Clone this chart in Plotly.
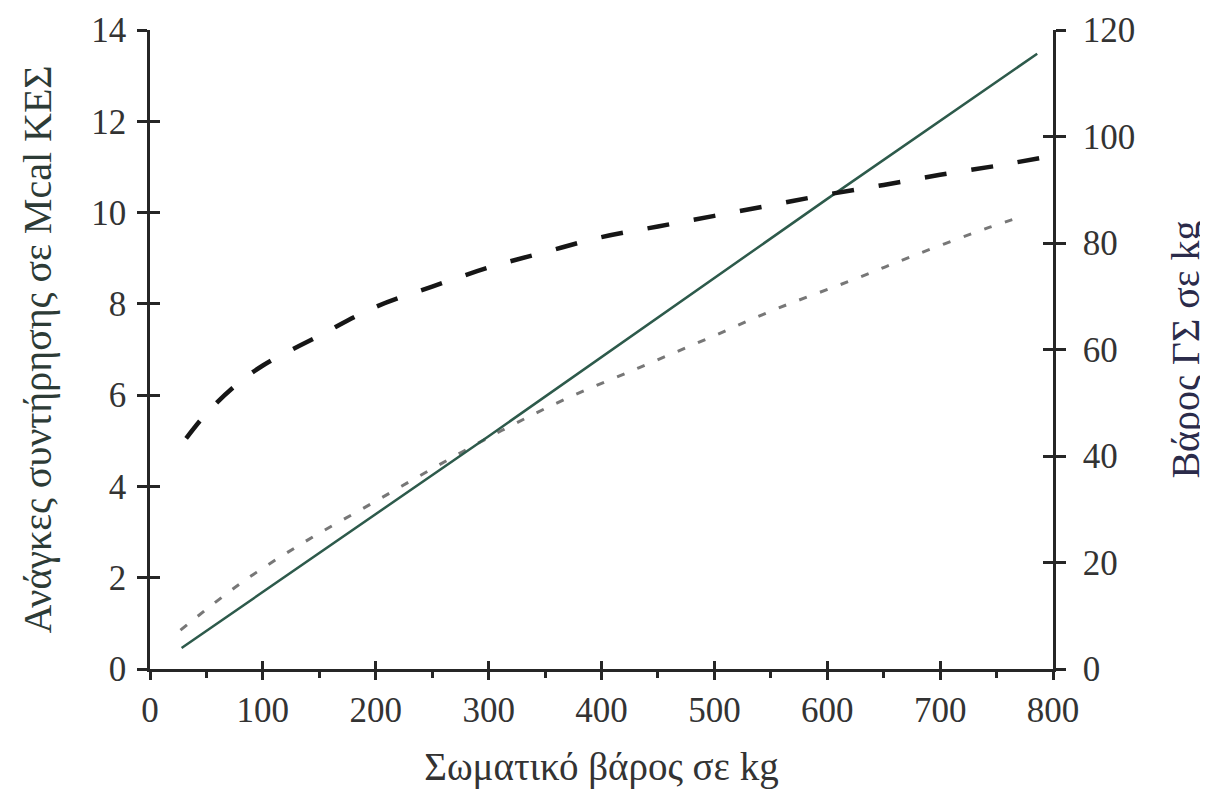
import plotly.graph_objects as go

# ---- data ----
# solid line (left axis, Mcal)
solid_kg = [28, 300, 600, 786]
solid_val = [0.46, 5.1, 10.3, 13.48]

# short-dashed grey curve (left axis, Mcal)
dot_kg = [27, 81, 138, 196, 253, 312, 365, 433, 495, 556, 621, 680, 744, 771]
dot_val = [0.85, 1.89, 2.8, 3.62, 4.43, 5.23, 5.88, 6.6, 7.25, 7.9, 8.51, 9.09, 9.68, 9.9]

# long-dashed black curve (right axis, kg)
dash_kg = [32, 50, 75, 100, 150, 200, 250, 300, 350, 400, 450, 500, 550, 600, 650, 700, 750, 790]
dash_val = [43.3, 48.0, 53.1, 57.0, 62.6, 68.0, 71.8, 75.4, 78.3, 81.1, 83.1, 85.1, 87.1, 89.1, 90.9, 92.8, 94.5, 96.0]

x_ticks = [0, 100, 200, 300, 400, 500, 600, 700, 800]
left_ticks = [0, 2, 4, 6, 8, 10, 12, 14]
right_ticks = [0, 20, 40, 60, 80, 100, 120]

x_title = "Σωματικό βάρος σε kg"
left_title = "Ανάγκες συντήρησης σε Mcal ΚΕΣ"
right_title = "Βάρος ΓΣ σε kg"

FONT = "Liberation Serif"
AX = "#262626"
TXT = "#333333"

fig = go.Figure()
fig.add_trace(go.Scatter(x=dot_kg, y=dot_val, mode="lines", yaxis="y",
                         line=dict(color="#777777", width=3, dash="8px,14px", shape="spline"),
                         showlegend=False, name="short"))
fig.add_trace(go.Scatter(x=solid_kg, y=solid_val, mode="lines", yaxis="y",
                         line=dict(color="#2d5a4b", width=2.5),
                         showlegend=False, name="solid"))
fig.add_trace(go.Scatter(x=dash_kg, y=dash_val, mode="lines", yaxis="y2",
                         line=dict(color="#161616", width=4.5, dash="22px,25px", shape="spline"),
                         showlegend=False, name="long"))

tickfont = dict(family=FONT, size=35, color=TXT)
common = dict(showgrid=False, zeroline=False, tickwidth=2.5, tickcolor=AX, automargin=False)

fig.update_layout(
    width=1208, height=805,
    margin=dict(l=142, r=163, t=22, b=144),
    paper_bgcolor="white", plot_bgcolor="white",
    font=dict(family=FONT, color=TXT),
    xaxis=dict(range=[0, 800], tickvals=x_ticks, ticks="outside", ticklen=8,
               showline=True, linecolor=AX, linewidth=2.5, tickfont=tickfont,
               ticklabelstandoff=0, ticklabeloverflow="allow",
               minor=dict(ticks="outside", ticklen=6, tickwidth=2.5, tickcolor=AX, dtick=50),
               title=dict(text=x_title, font=dict(family=FONT, size=39, color=TXT), standoff=24),
               **common),
    xaxis3=dict(range=[0, 800], overlaying="x", anchor="y", side="bottom",
                tickvals=x_ticks, ticks="inside", ticklen=8, showticklabels=False,
                showline=False, **common),
    yaxis=dict(range=[0, 14], tickvals=left_ticks, ticks="outside", ticklen=10,
               showline=True, linecolor=AX, linewidth=2.5, tickfont=tickfont,
               ticklabelstandoff=4, ticklabeloverflow="allow",
               title=dict(text=left_title, font=dict(family=FONT, size=40, color="#2d3b36"), standoff=28),
               **common),
    yaxis3=dict(range=[0, 14], overlaying="y", anchor="x", side="left",
                tickvals=left_ticks, ticks="inside", ticklen=10, showticklabels=False,
                showline=False, **common),
    yaxis2=dict(range=[0, 120], overlaying="y", anchor="x", side="right",
                tickvals=right_ticks, ticks="outside", ticklen=10,
                showline=True, linecolor=AX, linewidth=2.5, tickfont=tickfont,
                ticklabelstandoff=10, ticklabeloverflow="allow",
                title=dict(text=right_title, font=dict(family=FONT, size=40, color="#2b2b4a"), standoff=37),
                **common),
    yaxis4=dict(range=[0, 120], overlaying="y", anchor="x", side="right",
                tickvals=right_ticks, ticks="inside", ticklen=10, showticklabels=False,
                showline=False, **common),
)
# invisible helper traces so the overlay (inside-tick) axes render
fig.add_trace(go.Scatter(x=[0], y=[0], xaxis="x3", yaxis="y3", mode="markers",
                         marker=dict(opacity=0), showlegend=False, hoverinfo="skip"))
fig.add_trace(go.Scatter(x=[0], y=[0], xaxis="x", yaxis="y4", mode="markers",
                         marker=dict(opacity=0), showlegend=False, hoverinfo="skip"))

fig.write_html("out.html")
